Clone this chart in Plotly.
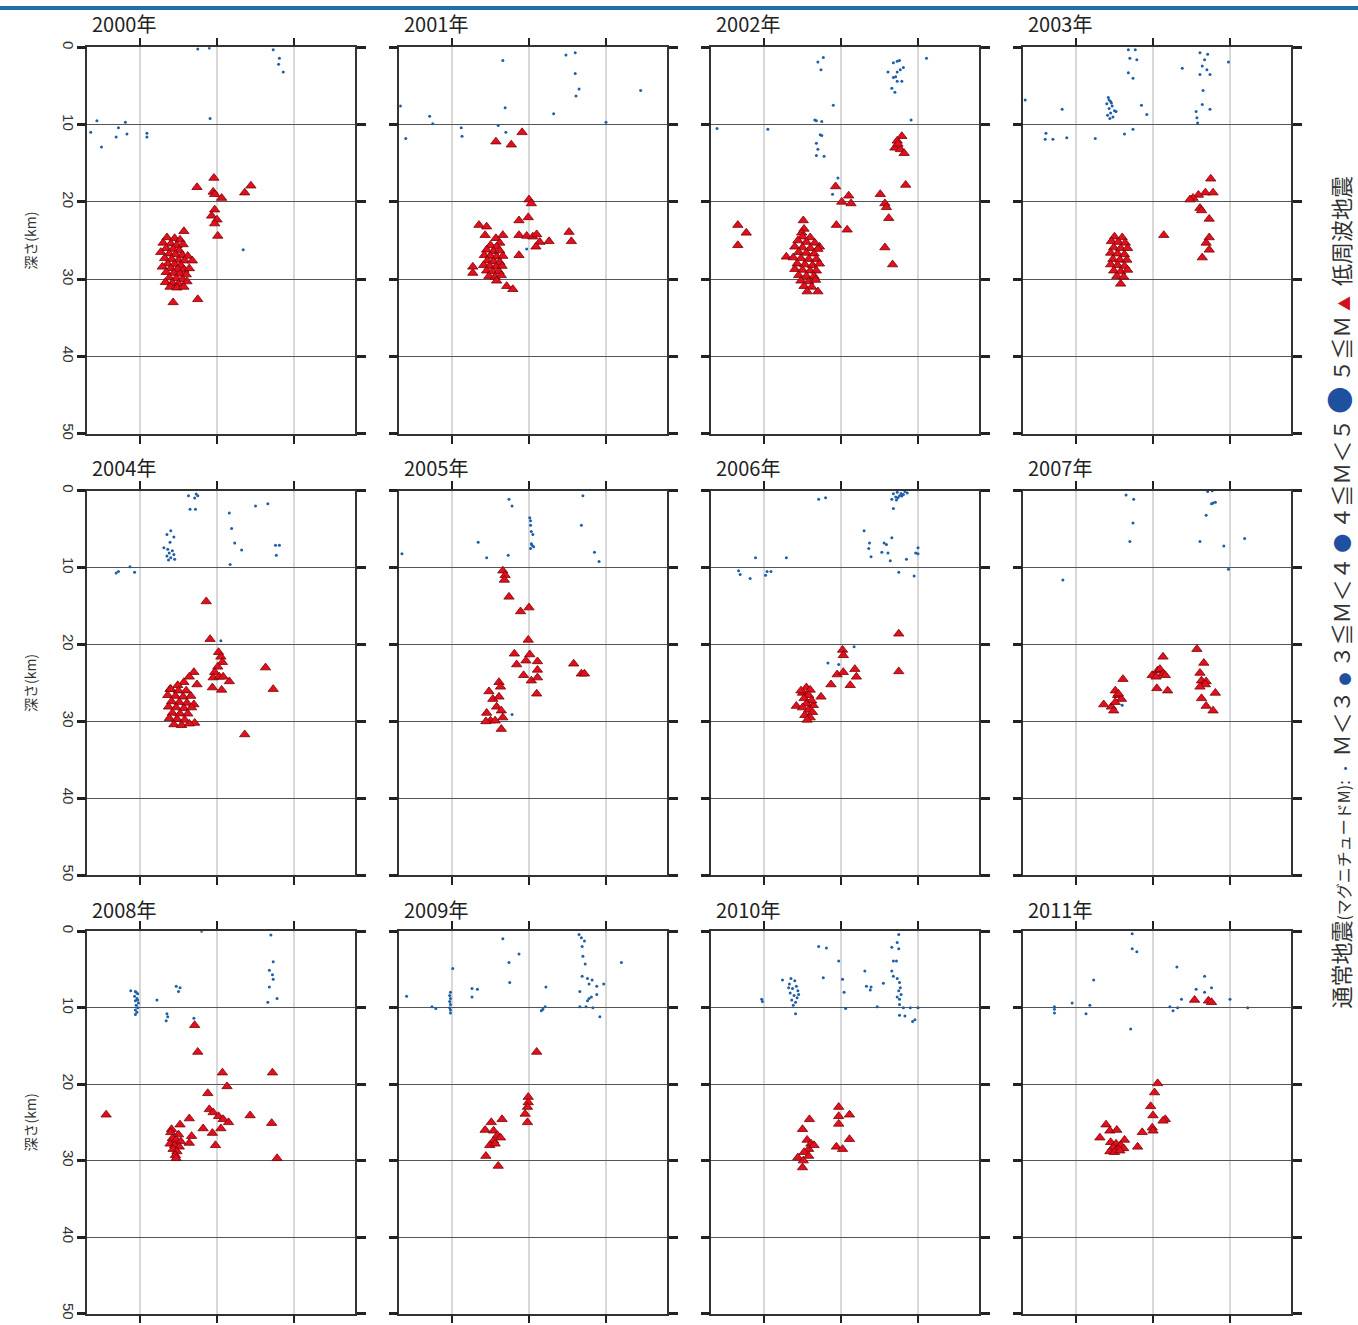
import plotly.graph_objects as go

W, H = 1358, 1325

years = ["2000年", "2001年", "2002年", "2003年", "2004年", "2005年",
         "2006年", "2007年", "2008年", "2009年", "2010年", "2011年"]
depth_ticks = [0, 10, 20, 30, 40, 50]
depth_labels = ["0", "10", "20", "30", "40", "50"]
dist_ticks = [0, 1, 2]

# ---- low-frequency earthquakes (x, depth km) ----
lfe_2000 = [(0.96,16.9),(0.74,18.1),(0.95,18.7),(0.97,19.0),(1.06,19.5),(1.36,18.8),(1.44,17.9),
            (0.97,21.0),(0.93,21.8),(1.0,22.3),(0.97,22.8),(1.01,24.4),(0.57,23.8),(0.43,33.0),(0.75,32.6),
            (0.35,24.6),(0.45,24.7),(0.52,24.9),(0.30,25.3),(0.40,25.4),(0.48,25.6),(0.56,25.5),(0.34,26.0),
            (0.43,26.1),(0.51,26.3),(0.27,26.5),(0.38,26.7),(0.46,26.8),(0.55,26.9),(0.62,27.0),(0.32,27.3),
            (0.41,27.4),(0.50,27.5),(0.58,27.6),(0.68,27.6),(0.36,28.0),(0.45,28.1),(0.53,28.2),(0.29,28.4),
            (0.40,28.6),(0.49,28.7),(0.57,28.8),(0.64,28.6),(0.34,29.1),(0.44,29.2),(0.52,29.3),(0.60,29.4),
            (0.38,29.8),(0.47,29.9),(0.55,30.0),(0.33,30.4),(0.42,30.5),(0.50,30.6),(0.61,30.3),(0.39,31.0),
            (0.48,31.1),(0.57,31.0)]
eq_2000 = [(1.73,0.3),(1.81,1.4),(1.80,2.2),(1.86,3.2),(0.91,9.2),(-0.56,9.5),(-0.19,9.7),(-0.28,10.4),
           (-0.64,11.0),(-0.17,11.2),(-0.31,11.6),(0.09,11.1),(0.09,11.6),(-0.50,12.9),(1.34,26.2),
           (0.75,0.2),(0.9,0.1)]

lfe_2001 = [(0.91,11.0),(0.57,12.2),(0.77,12.6),(1.0,19.7),(1.03,20.2),(0.99,22.0),(0.87,22.4),(0.35,23.0),
            (0.45,23.2),(0.43,24.3),(0.57,24.7),(0.66,24.3),(0.87,24.3),(0.97,24.4),(1.05,24.5),(1.10,24.2),
            (1.14,25.2),(1.26,25.1),(1.09,25.8),(1.52,23.9),(1.55,25.1),(0.87,26.9),(0.62,25.3),
            (0.50,25.6),(0.58,25.8),(0.45,26.2),(0.54,26.4),(0.62,26.3),(0.42,26.9),(0.50,27.0),(0.58,27.1),
            (0.66,27.0),(0.46,27.6),(0.54,27.7),(0.62,27.8),(0.41,28.2),(0.49,28.3),(0.57,28.4),(0.65,28.3),
            (0.45,28.9),(0.53,29.0),(0.61,29.0),(0.48,29.6),(0.56,29.7),(0.64,29.5),
            (0.27,28.4),(0.27,29.2),(0.58,30.2),(0.71,30.9),(0.79,31.3)]
eq_2001 = [(0.66,1.7),(1.48,1.0),(1.60,0.7),(1.60,3.4),(1.65,5.4),(1.61,6.3),(2.45,5.6),(0.69,7.8),
           (1.32,8.6),(-0.29,8.9),(-0.25,9.9),(-0.67,7.6),(0.60,10.1),(0.12,10.4),(2.0,9.7),(0.70,11.0),
           (0.13,11.5),(-0.60,11.8),(0.97,26.1)]

lfe_2002 = [(1.79,11.5),(1.73,12.1),(1.70,13.0),(1.77,13.2),(1.82,13.7),(1.74,12.5),(1.84,17.8),(0.93,18.0),
            (1.10,19.2),(1.01,20.0),(1.13,20.2),(1.51,19.0),(1.57,20.2),(1.59,20.7),(1.62,22.1),(0.94,23.0),
            (1.08,23.6),(1.57,25.9),(1.67,28.1),(-0.34,23.0),(-0.23,24.0),(-0.34,25.6),(0.51,22.4),(0.52,23.5),
            (0.49,24.0),(0.72,25.8),(0.29,27.1),
            (0.50,24.5),(0.60,24.6),(0.44,25.0),(0.55,25.2),(0.66,25.3),(0.40,25.8),(0.50,25.9),(0.60,26.0),
            (0.70,26.1),(0.45,26.5),(0.55,26.6),(0.65,26.7),(0.38,27.2),(0.48,27.3),(0.58,27.4),(0.68,27.4),
            (0.43,28.0),(0.53,28.1),(0.63,28.2),(0.72,28.0),(0.40,28.7),(0.50,28.8),(0.60,28.9),(0.68,28.9),
            (0.45,29.5),(0.55,29.6),(0.65,29.6),(0.48,30.2),(0.58,30.3),(0.67,30.1),(0.52,30.9),(0.62,31.0),
            (0.56,31.6),(0.70,31.6)]
eq_2002 = [(0.77,1.3),(0.70,1.9),(0.74,2.9),(0.90,7.5),(0.66,9.4),(0.68,9.5),(0.75,9.6),(0.05,10.6),
           (-0.61,10.5),(0.73,11.3),(0.75,11.4),(0.68,12.4),(0.70,13.2),(0.68,14.0),(0.78,14.1),(0.96,16.9),
           (0.89,19.0),(1.91,9.4),(2.11,1.4),(1.73,1.8),(1.76,1.7),(1.68,2.0),(1.77,2.9),(1.81,2.6),
           (1.61,3.2),(1.73,3.2),(1.68,3.9),(1.73,4.4),(1.79,4.4),(1.66,5.3),(1.70,5.8),(1.71,3.8)]

lfe_2003 = [(1.75,17.0),(1.68,18.8),(1.78,18.8),(1.59,19.1),(1.52,19.5),(1.48,19.7),(1.61,20.8),(1.63,21.1),
            (1.73,22.2),(1.14,24.3),(1.73,24.6),(1.69,25.3),(1.73,26.2),(1.64,27.2),(0.58,30.6),
            (0.50,24.5),(0.60,24.6),(0.46,25.1),(0.55,25.2),(0.64,25.3),(0.49,25.9),(0.58,26.0),(0.67,26.0),
            (0.45,26.6),(0.54,26.7),(0.63,26.8),(0.48,27.4),(0.57,27.5),(0.66,27.5),(0.45,28.1),(0.54,28.2),
            (0.63,28.3),(0.49,28.9),(0.58,29.0),(0.67,28.8),(0.53,29.6),(0.62,29.7)]
eq_2003 = [(0.68,0.3),(0.77,0.3),(0.70,1.4),(0.79,1.6),(0.68,3.3),(0.74,4.0),(1.61,0.7),(1.71,0.9),
           (1.67,1.6),(1.64,2.4),(1.70,2.9),(1.61,3.5),(1.74,3.5),(1.38,2.7),(1.98,1.9),(1.65,5.6),
           (1.64,7.4),(1.74,8.0),(1.56,8.3),(1.57,9.1),(1.58,9.8),(-0.66,6.8),(-0.18,8.0),(0.85,7.5),
           (0.92,8.7),(0.42,6.5),(0.45,7.0),(0.40,7.3),(0.47,7.6),(0.43,7.9),(0.50,8.2),(0.45,8.5),
           (0.41,8.8),(0.48,9.0),(0.44,9.2),(0.52,8.3),(0.46,7.2),(0.43,6.8),(-0.39,11.1),(-0.40,11.9),
           (-0.30,11.9),(-0.12,11.7),(0.25,11.8),(0.63,11.2),(0.74,10.6)]

lfe_2004 = [(0.86,14.4),(0.91,19.3),(1.63,23.0),(1.73,25.8),(1.36,31.7),(1.02,21.0),(1.05,21.6),(1.07,22.3),
            (1.01,22.9),(0.97,23.6),(0.95,24.3),(1.03,24.2),(1.16,24.8),(0.94,25.6),(1.06,25.9),(1.08,24.2),
            (0.70,23.6),(0.64,24.2),(0.74,25.2),(0.57,24.9),(0.49,25.3),(0.39,25.8),(0.71,30.2),(0.70,27.8),
            (0.40,25.8),(0.50,26.0),(0.60,26.0),(0.36,26.6),(0.46,26.7),(0.56,26.8),(0.66,26.7),(0.41,27.4),
            (0.51,27.5),(0.61,27.6),(0.37,28.1),(0.47,28.2),(0.57,28.3),(0.67,28.2),(0.42,28.9),(0.52,29.0),
            (0.62,29.0),(0.38,29.6),(0.48,29.7),(0.58,29.8),(0.44,30.4),(0.54,30.5),(0.64,30.3)]
eq_2004 = [(0.63,0.65),(0.73,0.43),(0.75,0.65),(0.71,0.95),(0.65,2.4),(0.72,2.4),(1.16,2.9),(1.50,2.0),
           (1.66,1.7),(1.19,4.9),(1.23,6.8),(1.32,7.7),(1.76,7.1),(1.81,7.1),(1.77,8.4),(1.17,9.6),
           (0.40,5.2),(0.35,5.7),(0.44,6.0),(0.39,6.7),(0.31,7.4),(0.36,7.6),(0.42,7.8),(0.38,8.1),
           (0.44,8.3),(0.35,8.5),(0.40,8.7),(0.45,8.9),(0.37,9.0),(-0.13,9.9),(-0.28,10.5),(-0.31,10.7),
           (-0.07,10.6),(1.05,19.5)]

lfe_2005 = [(0.66,10.4),(0.69,11.0),(0.68,11.6),(0.74,13.8),(0.89,15.7),(1.00,15.2),(0.99,19.4),(0.81,21.2),
            (1.01,21.3),(0.96,22.1),(1.11,22.2),(0.84,22.6),(1.11,23.3),(0.93,24.0),(1.03,24.7),(1.11,24.3),
            (1.10,26.4),(1.58,22.5),(1.68,23.8),(1.72,23.8),(0.61,24.9),(0.63,25.5),(0.48,26.1),(0.53,27.1),
            (0.61,26.8),(0.58,28.1),(0.64,28.6),(0.45,28.9),(0.50,29.9),(0.56,29.9),(0.66,29.5),(0.64,31.0),
            (0.44,30.0)]
eq_2005 = [(0.74,1.1),(0.78,2.0),(1.70,0.65),(1.68,4.5),(1.01,3.5),(1.02,3.9),(1.02,4.5),(1.03,5.3),
           (1.05,5.7),(1.03,6.9),(1.06,7.3),(1.02,7.5),(1.04,7.1),(0.34,6.7),(0.45,8.7),(0.73,8.4),
           (-0.65,8.2),(1.85,8.0),(1.91,9.2),(0.78,29.1)]

lfe_2006 = [(1.75,18.6),(1.75,23.5),(1.02,20.7),(1.03,21.4),(0.95,23.9),(1.03,23.6),(1.18,23.2),(1.20,24.2),
            (0.87,25.2),(1.12,25.3),(0.74,26.8),(0.42,28.0),(0.64,27.9),
            (0.55,25.6),(0.60,25.9),(0.50,26.3),(0.58,26.6),(0.52,27.0),(0.62,27.3),(0.55,27.7),(0.50,28.2),
            (0.58,28.5),(0.63,28.8),(0.53,29.2),(0.60,29.5),(0.56,29.8),(0.48,26.0)]
eq_2006 = [(0.71,1.1),(0.80,0.9),(1.68,0.4),(1.73,0.2),(1.78,0.35),(1.83,0.1),(1.86,0.3),(1.71,0.8),
           (1.76,0.65),(1.81,0.5),(1.66,1.1),(1.72,1.2),(1.68,2.3),(1.74,0.9),(1.79,0.7),
           (1.30,5.2),(1.66,6.1),(1.37,6.8),(1.56,6.8),(1.59,7.0),(1.36,7.5),(1.61,8.1),(1.53,8.0),
           (1.39,8.6),(1.64,9.1),(1.85,8.9),(2.0,7.4),(2.0,8.2),(1.97,8.1),(1.75,10.6),(1.95,11.1),
           (-0.11,8.7),(0.29,8.7),(-0.33,10.4),(-0.31,10.9),(-0.18,11.4),(0.04,10.5),(0.09,10.5),
           (0.02,11.0),(0.83,22.4),(0.97,22.6),(1.17,20.3)]

lfe_2007 = [(1.57,20.6),(1.13,21.6),(1.66,22.4),(1.61,23.7),(0.99,24.0),(1.06,23.4),(1.09,23.2),(1.13,23.8),
            (1.16,24.0),(1.04,24.2),(1.63,24.7),(1.69,24.8),(1.68,25.2),(1.61,25.5),(1.81,26.3),(1.63,27.0),
            (1.69,28.0),(1.78,28.6),(1.05,25.7),(1.19,26.0),(0.61,24.5),(0.51,26.0),(0.54,26.6),(0.59,27.1),
            (0.36,27.8),(0.46,28.1),(0.51,27.5),(0.49,28.6),(0.55,26.4)]
eq_2007 = [(0.65,0.56),(0.75,1.1),(0.74,4.2),(0.70,6.6),(1.71,0.1),(1.77,0.0),(1.76,1.7),(1.81,1.5),
           (1.78,1.6),(1.69,3.2),(1.61,6.6),(1.92,7.2),(2.19,6.2),(1.98,10.2),(-0.17,11.6),(0.60,27.9)]

lfe_2008 = [(0.71,12.3),(0.75,15.8),(1.07,18.5),(1.72,18.5),(1.13,20.3),(0.88,21.2),(-0.44,24.0),(0.90,23.3),
            (0.95,23.7),(1.02,24.2),(1.08,24.6),(1.15,25.0),(1.43,24.1),(1.71,25.1),(0.64,24.5),(0.52,25.3),
            (0.41,25.9),(0.82,25.8),(1.05,25.8),(0.94,26.4),(0.67,26.8),(0.64,27.7),(0.98,28.0),
            (0.40,26.3),(0.50,26.6),(0.42,27.1),(0.47,27.3),(0.53,27.5),(0.39,27.8),(0.45,28.0),(0.51,28.2),
            (0.43,28.5),(0.48,28.8),(0.46,29.3),(0.47,29.7),(1.78,29.7)]
eq_2008 = [(0.80,0.0),(1.70,0.5),(-0.06,7.9),(-0.03,8.2),(-0.07,8.5),(-0.04,8.8),(-0.06,9.1),(-0.02,9.4),
           (-0.05,9.7),(-0.03,10.0),(-0.06,10.3),(-0.04,10.6),(-0.05,8.0),(-0.03,9.0),(-0.12,7.8),
           (-0.06,10.9),(0.22,9.0),(0.47,7.2),(0.52,7.4),(0.50,7.9),(0.35,10.8),(0.36,11.2),(0.34,11.7),
           (0.70,11.4),(1.73,4.0),(1.68,5.1),(1.72,5.7),(1.73,6.3),(1.68,7.3),(1.78,8.8),(1.66,9.3)]

lfe_2009 = [(1.10,15.8),(0.99,21.7),(0.99,22.4),(0.98,23.0),(0.95,23.9),(0.98,25.0),(0.65,24.6),(0.51,25.0),
            (0.43,26.0),(0.54,26.1),(0.59,26.7),(0.63,27.0),(0.54,27.4),(0.49,28.0),(0.56,27.8),(0.44,29.4),
            (0.60,30.7)]
eq_2009 = [(0.66,1.0),(0.87,3.0),(0.74,4.1),(0.75,6.7),(0.01,4.9),(1.22,7.3),(0.26,7.5),(0.33,7.6),
           (0.26,8.6),(-0.59,8.5),(2.20,4.1),(1.65,0.43),(1.68,0.87),(1.72,1.3),(1.69,2.0),(1.70,3.3),
           (1.73,4.3),(1.69,5.9),(1.76,6.2),(1.82,6.4),(1.78,6.9),(1.88,7.2),(1.97,6.9),(1.66,7.9),
           (1.78,8.8),(1.88,8.3),(1.81,8.6),(1.76,9.1),(1.66,9.9),(1.74,9.9),(1.83,10.0),(1.92,11.2),
           (1.21,9.9),(1.16,10.4),(1.18,10.2),(-0.02,8.0),(-0.03,8.4),(-0.02,8.8),(-0.03,9.2),(-0.02,9.6),
           (-0.03,10.0),(-0.02,10.3),(-0.26,9.9),(-0.21,10.1),(-0.02,10.7)]

lfe_2010 = [(0.97,23.0),(0.97,24.2),(1.11,24.0),(0.97,25.2),(1.11,27.2),(0.94,28.2),(1.02,28.5),(0.59,24.6),
            (0.50,25.9),(0.56,27.3),(0.61,27.8),(0.58,28.5),(0.52,28.9),(0.58,29.4),(0.44,29.6),(0.51,30.0),
            (0.50,30.9),(0.65,28.0)]
eq_2010 = [(0.35,6.2),(0.40,6.5),(0.33,6.9),(0.42,7.2),(0.37,7.5),(0.44,7.8),(0.34,8.1),(0.39,8.4),
           (0.43,8.7),(0.36,9.0),(0.41,9.3),(0.38,9.7),(0.32,7.4),(0.45,8.3),(0.24,6.4),(0.41,10.8),
           (-0.03,8.9),(-0.02,9.2),(0.71,2.0),(0.81,2.2),(0.97,3.9),(0.77,6.1),(1.02,6.3),(1.04,8.0),
           (1.06,10.1),(1.31,5.2),(1.33,7.2),(1.39,7.3),(1.38,7.7),(1.55,6.8),(1.47,9.9),
           (1.75,0.43),(1.73,1.5),(1.66,2.1),(1.75,2.3),(1.68,3.9),(1.72,3.9),(1.66,5.2),(1.68,5.9),
           (1.73,6.2),(1.76,6.7),(1.77,7.4),(1.75,7.8),(1.78,8.3),(1.73,8.6),(1.76,8.9),(1.76,9.6),
           (1.81,10.0),(1.90,10.0),(2.0,10.0),(1.76,11.0),(1.83,11.1),(1.93,11.8),(1.96,11.6)]

lfe_2011 = [(1.54,9.0),(1.72,9.1),(1.76,9.3),(1.06,19.9),(1.02,21.1),(0.97,22.9),(1.00,24.1),(1.16,24.6),
            (1.13,24.8),(0.99,25.7),(1.00,26.1),(0.86,26.3),(0.80,28.2),(0.63,27.3),(0.39,25.3),(0.31,27.0),
            (0.44,26.1),(0.53,26.0),(0.45,27.6),(0.52,27.8),(0.58,28.0),(0.48,28.3),(0.55,28.5),(0.62,28.4),
            (0.44,28.8),(0.50,28.9),(0.57,28.7)]
eq_2011 = [(0.73,0.35),(0.73,2.3),(0.79,2.7),(0.23,6.4),(1.31,4.7),(1.67,5.9),(1.56,7.6),(1.76,7.4),
           (1.67,8.0),(1.37,8.9),(2.0,8.9),(2.23,10.0),(-0.05,9.4),(0.18,9.7),(0.13,10.8),(-0.28,9.9),
           (-0.28,10.2),(-0.28,10.7),(1.22,9.9),(1.26,10.4),(1.32,10.0),(0.71,12.8)]

lfe_all = [lfe_2000, lfe_2001, lfe_2002, lfe_2003, lfe_2004, lfe_2005,
           lfe_2006, lfe_2007, lfe_2008, lfe_2009, lfe_2010, lfe_2011]
eq_all = [eq_2000, eq_2001, eq_2002, eq_2003, eq_2004, eq_2005,
          eq_2006, eq_2007, eq_2008, eq_2009, eq_2010, eq_2011]

# ---- layout geometry (target pixels in the picture) ----
col_x0 = [140, 452, 764, 1076]          # pixel of x = 0 tick
px_per_unit = 77
x_lo, x_hi = -0.685, 2.795
row_top = [46, 490, 931]
row_bot = [433, 875, 1314]
title_y = [22, 467, 909]


def fy(y_target):
    # convert a target picture row into paper fraction (compensates observed capture offset)
    y_page = (y_target - 4.6) / 0.9923
    return 1 - y_page / H


fig = go.Figure()
BLUE = "#1f5fa8"
RED = "#e0101c"

for i in range(12):
    r, c = divmod(i, 4)
    ax = "" if i == 0 else str(i + 1)
    xa, ya = "x" + ax, "y" + ax
    eq = eq_all[i]
    lf = lfe_all[i]
    fig.add_trace(go.Scatter(x=[p[0] for p in eq], y=[p[1] for p in eq], mode="markers",
                             xaxis=xa, yaxis=ya, showlegend=False, hoverinfo="skip",
                             marker=dict(symbol="circle", size=3, color=BLUE, line=dict(width=0))))
    fig.add_trace(go.Scatter(x=[p[0] for p in lf], y=[p[1] for p in lf], mode="markers",
                             xaxis=xa, yaxis=ya, showlegend=False, hoverinfo="skip",
                             marker=dict(symbol="triangle-up", size=9, color=RED,
                                         line=dict(width=0.8, color="#7a0008"))))
    left = col_x0[c] + x_lo * px_per_unit
    right = col_x0[c] + x_hi * px_per_unit
    xdom = [left / W, right / W]
    ydom = [fy(row_bot[r]), fy(row_top[r])]
    fig.layout["xaxis" + ax] = dict(domain=xdom, range=[x_lo, x_hi], anchor=ya,
                                    tickvals=dist_ticks, showticklabels=False,
                                    ticks="outside", ticklen=8, tickwidth=2, tickcolor="#222",
                                    showline=True, linecolor="#333", linewidth=1.5, mirror="ticks",
                                    showgrid=True, gridcolor="#d8d8d8", gridwidth=1.5,
                                    zeroline=False, fixedrange=True)
    ydict = dict(domain=ydom, range=[50, 0], anchor=xa,
                 tickvals=depth_ticks, ticktext=depth_labels,
                 showticklabels=(c == 0), tickangle=90, ticklabelstandoff=-4,
                 tickfont=dict(size=15, color="#333", family="Liberation Sans"),
                 ticks="outside", ticklen=9, tickwidth=2.5, tickcolor="#222",
                 showline=True, linecolor="#333", linewidth=1.5, mirror="ticks",
                 showgrid=True, gridcolor="#555", gridwidth=1,
                 zeroline=False, fixedrange=True)
    if c == 0:
        ydict["title"] = dict(text="深さ(km)", standoff=20,
                              font=dict(size=14, color="#333", family="Noto Sans CJK JP"))
    fig.layout["yaxis" + ax] = ydict
    fig.add_annotation(text=years[i], xref="paper", yref="paper",
                       x=(col_x0[c] - 50) / W, y=fy(title_y[r]),
                       xanchor="left", yanchor="middle", showarrow=False,
                       font=dict(size=20, color="#222", family="Noto Sans CJK JP"))

legend_text = ("通常地震<span style='font-size:16px'>(マグニチュードM):</span> "
               "<span style='font-size:14px;color:#1f4f9f'>・</span> Ｍ＜３ "
               "<span style='font-size:13px;color:#1f4f9f'>●</span> ３≦Ｍ＜４ "
               "<span style='font-size:19px;color:#1f4f9f'>●</span> ４≦Ｍ＜５ "
               "<span style='font-size:27px;color:#1f4f9f'>●</span> ５≦Ｍ "
               "<span style='font-size:15px;color:#d0101a'>▲</span>  低周波地震")
fig.add_annotation(text=legend_text, xref="paper", yref="paper",
                   x=1339 / W, y=fy(592), xanchor="center", yanchor="middle",
                   textangle=-90, showarrow=False,
                   font=dict(size=22, color="#333", family="Noto Sans CJK JP"))

fig.add_shape(type="rect", xref="paper", yref="paper", x0=0, x1=1, y0=1 - 4 / H, y1=1,
              fillcolor="#1f6fa8", line=dict(width=0), layer="above")

fig.update_layout(width=W, height=H, margin=dict(l=0, r=0, t=0, b=0),
                  paper_bgcolor="white", plot_bgcolor="white",
                  font=dict(family="Noto Sans CJK JP"))
fig.write_html("out.html", config={"displayModeBar": False},
               post_script=("document.documentElement.style.overflow='hidden';"
                            "document.body.style.margin='0';document.body.style.overflow='hidden';"
                            "var gd=document.getElementsByClassName('plotly-graph-div')[0];"
                            "gd.style.position='absolute';gd.style.top='0px';gd.style.left='0px';"))
